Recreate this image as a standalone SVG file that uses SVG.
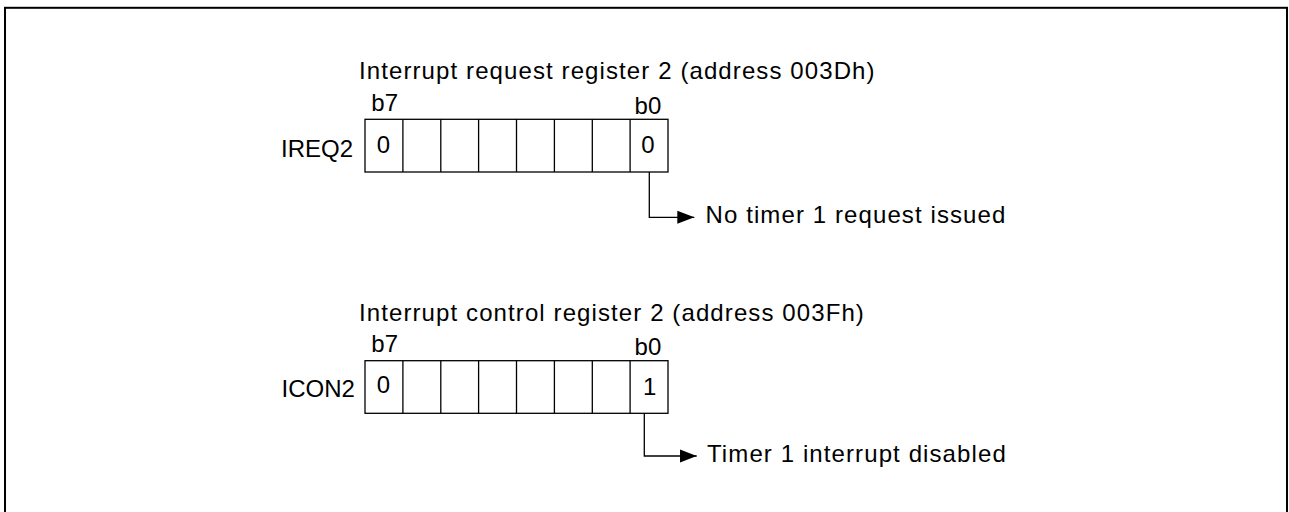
<svg xmlns="http://www.w3.org/2000/svg" width="1289" height="512" viewBox="0 0 1289 512">
<style>
text{font-family:"Liberation Sans",Arial,sans-serif;font-size:24px;fill:#000}
.long{letter-spacing:1.1px}
.mid{text-anchor:middle}
.cell{fill:#fff;stroke:#000;stroke-width:1.3}
.div{stroke:#000;stroke-width:1.3}
.conn{fill:none;stroke:#000;stroke-width:1.3}
</style>
<defs>
<marker id="arr" markerUnits="userSpaceOnUse" markerWidth="18" markerHeight="14" refX="17" refY="7" orient="auto">
<path d="M0,0.5 L17,7 L0,13.5 Z" fill="#000"/>
</marker>
</defs>
<rect x="5" y="7.8" width="1282" height="520" fill="#fff" stroke="#000" stroke-width="2"/>
<g id="ireq2">
<text class="long" x="359" y="79">Interrupt request register 2 (address 003Dh)</text>
<text x="371.3" y="111">b7</text>
<text x="634.6" y="113.5">b0</text>
<text x="281" y="156.5">IREQ2</text>
<rect class="cell" x="365" y="119.3" width="303" height="52.7"/>
<path class="div" d="M402.9,119.3V172M440.8,119.3V172M478.6,119.3V172M516.5,119.3V172M554.4,119.3V172M592.3,119.3V172M630.1,119.3V172"/>
<text class="mid" x="383.5" y="152.7">0</text>
<text class="mid" x="648" y="153">0</text>
</g>
<g id="ireq2-note">
<text class="long" x="705.5" y="223.3">No timer 1 request issued</text>
</g>
<g id="icon2">
<text class="long" x="359" y="320.7">Interrupt control register 2 (address 003Fh)</text>
<text x="371.3" y="352">b7</text>
<text x="634.6" y="355">b0</text>
<text x="281.5" y="396.5">ICON2</text>
<rect class="cell" x="365" y="360.7" width="303" height="52.6"/>
<path class="div" d="M402.9,360.7V413.3M440.8,360.7V413.3M478.6,360.7V413.3M516.5,360.7V413.3M554.4,360.7V413.3M592.3,360.7V413.3M630.1,360.7V413.3"/>
<text class="mid" x="383.5" y="393.3">0</text>
<text class="mid" x="649.6" y="395">1</text>
</g>
<g id="icon2-note">
<text class="long" x="707" y="462">Timer 1 interrupt disabled</text>
</g>
<g id="connectors">
<path class="conn" d="M649.3,172V217.3H694.3" marker-end="url(#arr)"/>
<path class="conn" d="M644.3,413.3V456H696.7" marker-end="url(#arr)"/>
</g>
</svg>
